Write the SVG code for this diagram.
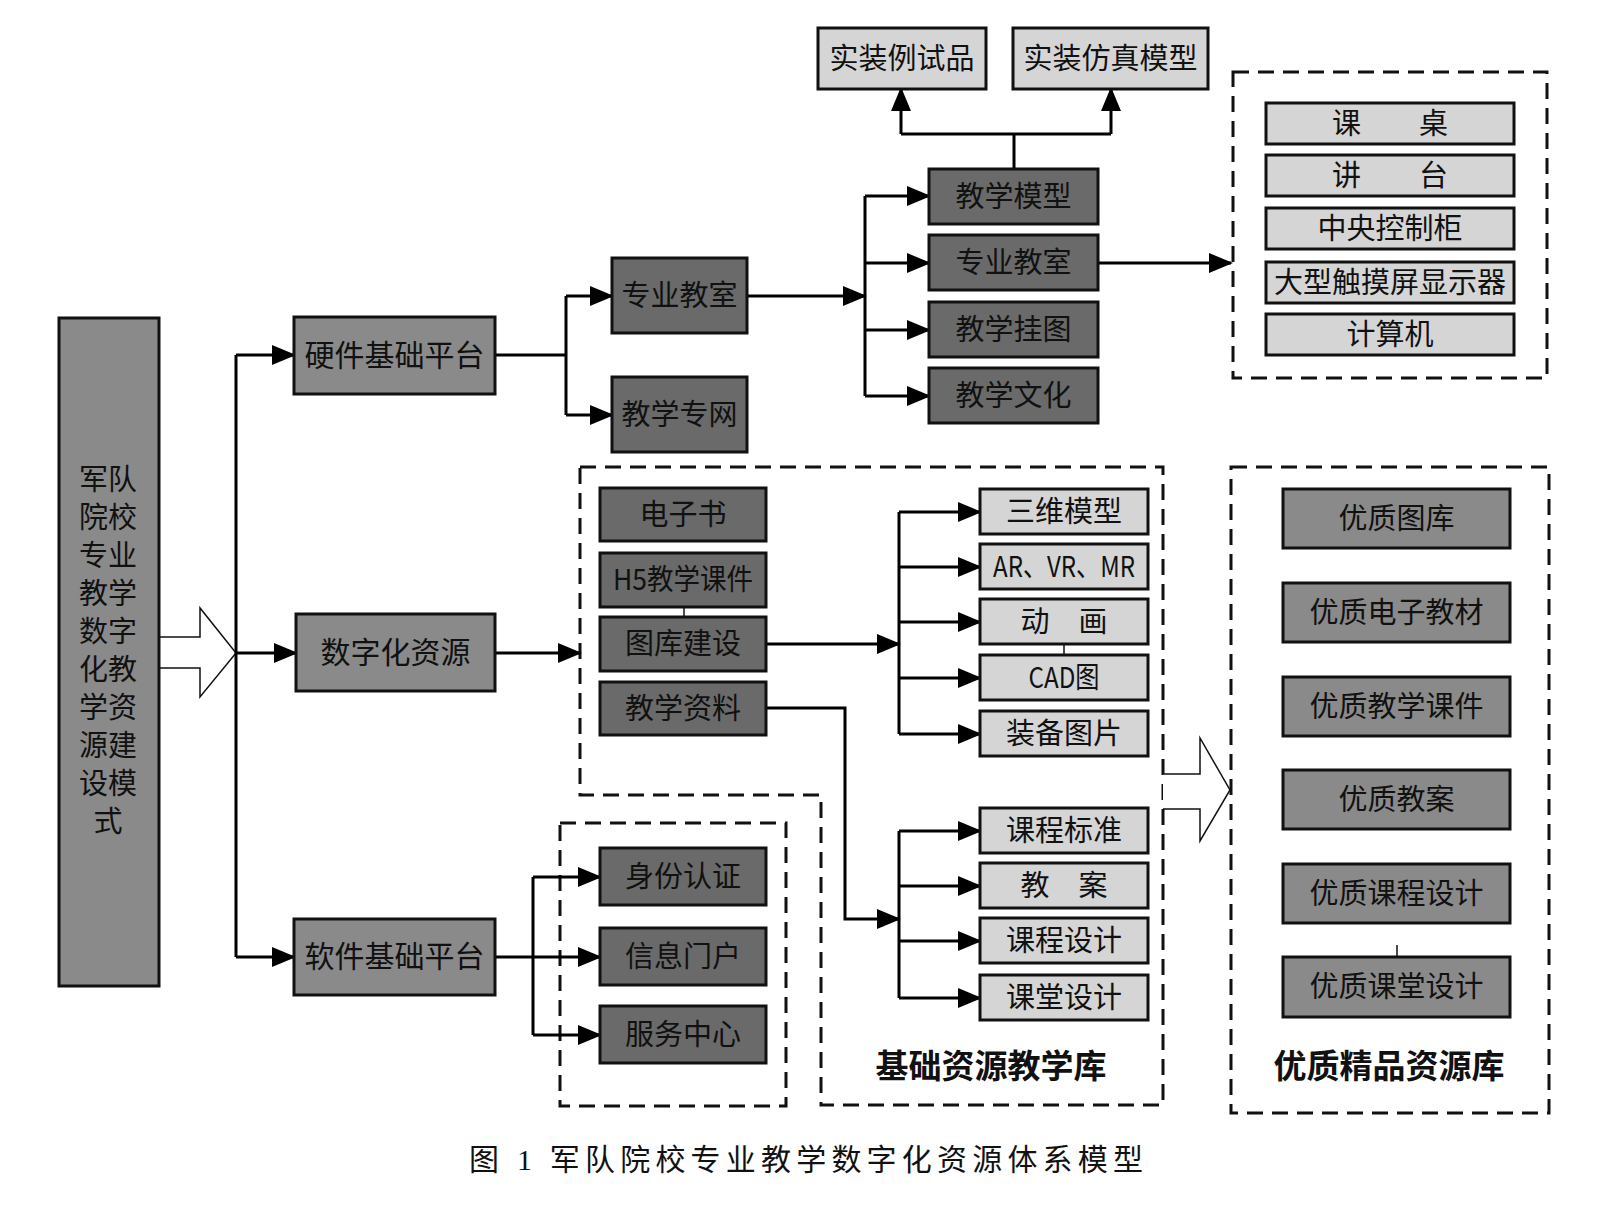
<svg xmlns="http://www.w3.org/2000/svg" width="1608" height="1213" viewBox="0 0 1608 1213">
<style>
.b{stroke:#111;stroke-width:3}
.dk{fill:#6a6a6a}.md{fill:#8a8a8a}.lt{fill:#d5d5d5}
.t{font-family:"Noto Sans CJK SC","Liberation Sans",sans-serif;font-size:29px;text-anchor:middle;dominant-baseline:central;fill:#111;transform:translateY(-3px)}
.t30{font-size:30px}
.lb{font-family:"Noto Sans CJK SC","Liberation Sans",sans-serif;font-size:33px;font-weight:bold;text-anchor:middle;dominant-baseline:central;fill:#111;transform:translateY(-3px)}
.cap{font-family:"Liberation Serif","Noto Sans CJK SC",serif;font-size:30px;text-anchor:middle;dominant-baseline:central;fill:#111}
.c{fill:none;stroke:#000;stroke-width:3}
.a{marker-end:url(#ar)}
.tk{fill:none;stroke:#111;stroke-width:1.5}
.d{fill:none;stroke:#111;stroke-width:3;stroke-dasharray:16 9}
.h{fill:#fff;stroke:#111;stroke-width:1.5;stroke-linejoin:miter}
</style>
<defs>
<marker id="ar" markerWidth="24" markerHeight="20" refX="22" refY="10" orient="auto" markerUnits="userSpaceOnUse"><path d="M0,0 L24,10 L0,20 z" fill="#000"/></marker>
</defs>
<rect width="1608" height="1213" fill="#fff"/>

<g id="containers">
<rect id="box-classroom" class="d" x="1233" y="72" width="314" height="306"/>
<path id="box-basic" class="d" d="M580,467 H1163 V1105 H821 V795 H580 Z"/>
<rect id="box-software" class="d" x="560" y="823" width="226" height="283"/>
<rect id="box-quality" class="d" x="1231" y="467" width="318" height="646"/>
</g>

<g id="connectors">
<path class="h" d="M158,637 H200 V608 L236,653 L200,697 V668 H158"/>
<path class="c" d="M236,355 V957"/>
<path class="c a" d="M236,355 H294"/>
<path class="c a" d="M236,653 H296"/>
<path class="c a" d="M236,957 H294"/>
<path class="c" d="M495,355 H566 M566,296 V415"/>
<path class="c a" d="M566,296 H612"/>
<path class="c a" d="M566,415 H612"/>
<path class="c a" d="M747,296 H865"/>
<path class="c" d="M865,196 V396"/>
<path class="c a" d="M865,196 H929"/>
<path class="c a" d="M865,263 H929"/>
<path class="c a" d="M865,330 H929"/>
<path class="c a" d="M865,396 H929"/>
<path class="c" d="M1014,169 V134 M901,134 H1111"/>
<path class="c a" d="M901,134 V89"/>
<path class="c a" d="M1111,134 V89"/>
<path class="c a" d="M1098,263 H1231"/>
<path class="c a" d="M495,653 H580"/>
<path class="tk" d="M684,607 V617"/>
<path class="c a" d="M766,644 H899"/>
<path class="c" d="M899,512 V734"/>
<path class="c a" d="M899,512 H980"/>
<path class="c a" d="M899,567 H980"/>
<path class="c a" d="M899,622 H980"/>
<path class="c a" d="M899,678 H980"/>
<path class="c a" d="M899,734 H980"/>
<path class="tk" d="M1064,644 V655"/>
<path class="c a" d="M766,708 H845 V919 H899"/>
<path class="c" d="M899,831 V998"/>
<path class="c a" d="M899,831 H980"/>
<path class="c a" d="M899,886 H980"/>
<path class="c a" d="M899,941 H980"/>
<path class="c a" d="M899,998 H980"/>
<path class="c a" d="M495,957 H600"/>
<path class="c" d="M533,877 V1035"/>
<path class="c a" d="M533,877 H600"/>
<path class="c a" d="M533,1035 H600"/>
<path class="h" d="M1163,774 H1200 V738 L1230,790 L1200,841 V809 H1163"/>
<path class="tk" d="M1397,945 V957"/>
</g>

<g id="n-root"><rect class="b md" x="59" y="318" width="100" height="668"/>
<text class="t" font-size="26"><tspan x="108" y="480">军队</tspan><tspan x="108" y="518">院校</tspan><tspan x="108" y="556">专业</tspan><tspan x="108" y="594">教学</tspan><tspan x="108" y="632">数字</tspan><tspan x="108" y="670">化教</tspan><tspan x="108" y="708">学资</tspan><tspan x="108" y="746">源建</tspan><tspan x="108" y="784">设模</tspan><tspan x="108" y="822">式</tspan></text></g>

<g id="n-hw"><rect class="b md" x="294" y="317" width="201" height="77"/><text class="t t30" x="394.5" y="355.5">硬件基础平台</text></g>
<g id="n-digital"><rect class="b md" x="296" y="614" width="199" height="77"/><text class="t t30" x="395.5" y="652.5">数字化资源</text></g>
<g id="n-sw"><rect class="b md" x="294" y="919" width="201" height="76"/><text class="t t30" x="394.5" y="957">软件基础平台</text></g>

<g id="n-zyjs"><rect class="b dk" x="612" y="258" width="135" height="75"/><text class="t" x="679.5" y="295.5">专业教室</text></g>
<g id="n-jxzw"><rect class="b dk" x="612" y="377" width="135" height="75"/><text class="t" x="679.5" y="414.5">教学专网</text></g>

<g id="n-jxmx"><rect class="b dk" x="929" y="169" width="169" height="55"/><text class="t" x="1013.5" y="196.5">教学模型</text></g>
<g id="n-zyjs2"><rect class="b dk" x="929" y="235" width="169" height="55"/><text class="t" x="1013.5" y="262.5">专业教室</text></g>
<g id="n-jxgt"><rect class="b dk" x="929" y="302" width="169" height="55"/><text class="t" x="1013.5" y="329.5">教学挂图</text></g>
<g id="n-jxwh"><rect class="b dk" x="929" y="368" width="169" height="55"/><text class="t" x="1013.5" y="395.5">教学文化</text></g>

<g id="n-szlsp"><rect class="b lt" x="818" y="28" width="168" height="61"/><text class="t" x="902" y="58.5">实装例试品</text></g>
<g id="n-szfzmx"><rect class="b lt" x="1013" y="28" width="195" height="61"/><text class="t" x="1110.5" y="58.5">实装仿真模型</text></g>

<g id="n-kz"><rect class="b lt" x="1266" y="103" width="248" height="41"/><text class="t" font-size="28" x="1390" y="123.5">课　　桌</text></g>
<g id="n-jt"><rect class="b lt" x="1266" y="155" width="248" height="41"/><text class="t" font-size="28" x="1390" y="175.5">讲　　台</text></g>
<g id="n-zykzg"><rect class="b lt" x="1266" y="208" width="248" height="41"/><text class="t" font-size="28" x="1390" y="228.5">中央控制柜</text></g>
<g id="n-dxcmp"><rect class="b lt" x="1266" y="262" width="248" height="41"/><text class="t" font-size="28" x="1390" y="282.5">大型触摸屏显示器</text></g>
<g id="n-jsj"><rect class="b lt" x="1266" y="314" width="248" height="41"/><text class="t" font-size="28" x="1390" y="334.5">计算机</text></g>

<g id="n-dzs"><rect class="b dk" x="600" y="488" width="166" height="53"/><text class="t" x="683" y="514.5">电子书</text></g>
<g id="n-h5"><rect class="b dk" x="600" y="553" width="166" height="54"/><text class="t" x="683" y="580" textLength="140" lengthAdjust="spacingAndGlyphs">H5教学课件</text></g>
<g id="n-tkjs"><rect class="b dk" x="600" y="617" width="166" height="54"/><text class="t" x="683" y="644">图库建设</text></g>
<g id="n-jxzl"><rect class="b dk" x="600" y="682" width="166" height="53"/><text class="t" x="683" y="708.5">教学资料</text></g>

<g id="n-swmx"><rect class="b lt" x="980" y="489" width="168" height="45"/><text class="t" font-size="28" x="1064" y="511.5">三维模型</text></g>
<g id="n-arvr"><rect class="b lt" x="980" y="544" width="168" height="45"/><text class="t" font-size="28" x="1064" y="566.5" textLength="142" lengthAdjust="spacingAndGlyphs">AR、VR、MR</text></g>
<g id="n-dh"><rect class="b lt" x="980" y="599" width="168" height="45"/><text class="t" font-size="28" x="1064" y="621.5">动　画</text></g>
<g id="n-cad"><rect class="b lt" x="980" y="655" width="168" height="45"/><text class="t" font-size="28" x="1064" y="677.5" textLength="71" lengthAdjust="spacingAndGlyphs">CAD图</text></g>
<g id="n-zbtp"><rect class="b lt" x="980" y="711" width="168" height="45"/><text class="t" font-size="28" x="1064" y="733.5">装备图片</text></g>

<g id="n-kcbz"><rect class="b lt" x="980" y="808" width="168" height="45"/><text class="t" font-size="28" x="1064" y="830.5">课程标准</text></g>
<g id="n-ja"><rect class="b lt" x="980" y="863" width="168" height="45"/><text class="t" font-size="28" x="1064" y="885.5">教　案</text></g>
<g id="n-kcsj"><rect class="b lt" x="980" y="918" width="168" height="45"/><text class="t" font-size="28" x="1064" y="940.5">课程设计</text></g>
<g id="n-ktsj"><rect class="b lt" x="980" y="975" width="168" height="45"/><text class="t" font-size="28" x="1064" y="997.5">课堂设计</text></g>

<g id="n-sfrz"><rect class="b dk" x="600" y="848" width="166" height="57"/><text class="t" x="683" y="876.5">身份认证</text></g>
<g id="n-xxmh"><rect class="b dk" x="600" y="928" width="166" height="57"/><text class="t" x="683" y="956.5">信息门户</text></g>
<g id="n-fwzx"><rect class="b dk" x="600" y="1006" width="166" height="57"/><text class="t" x="683" y="1034.5">服务中心</text></g>

<g id="n-yztk"><rect class="b md" x="1283" y="489" width="227" height="59"/><text class="t" x="1396.5" y="518.5">优质图库</text></g>
<g id="n-yzdzjc"><rect class="b md" x="1283" y="583" width="227" height="59"/><text class="t" x="1396.5" y="612.5">优质电子教材</text></g>
<g id="n-yzjxkj"><rect class="b md" x="1283" y="677" width="227" height="59"/><text class="t" x="1396.5" y="706.5">优质教学课件</text></g>
<g id="n-yzja"><rect class="b md" x="1283" y="770" width="227" height="59"/><text class="t" x="1396.5" y="799.5">优质教案</text></g>
<g id="n-yzkcsj"><rect class="b md" x="1283" y="864" width="227" height="59"/><text class="t" x="1396.5" y="893.5">优质课程设计</text></g>
<g id="n-yzktsj"><rect class="b md" x="1283" y="957" width="227" height="60"/><text class="t" x="1396.5" y="987">优质课堂设计</text></g>

<g id="labels">
<text class="lb" x="991" y="1067">基础资源教学库</text>
<text class="lb" x="1389" y="1067">优质精品资源库</text>
<text class="cap" x="806" y="1159" textLength="674" lengthAdjust="spacing">图 1 军队院校专业教学数字化资源体系模型</text>
</g>
</svg>
